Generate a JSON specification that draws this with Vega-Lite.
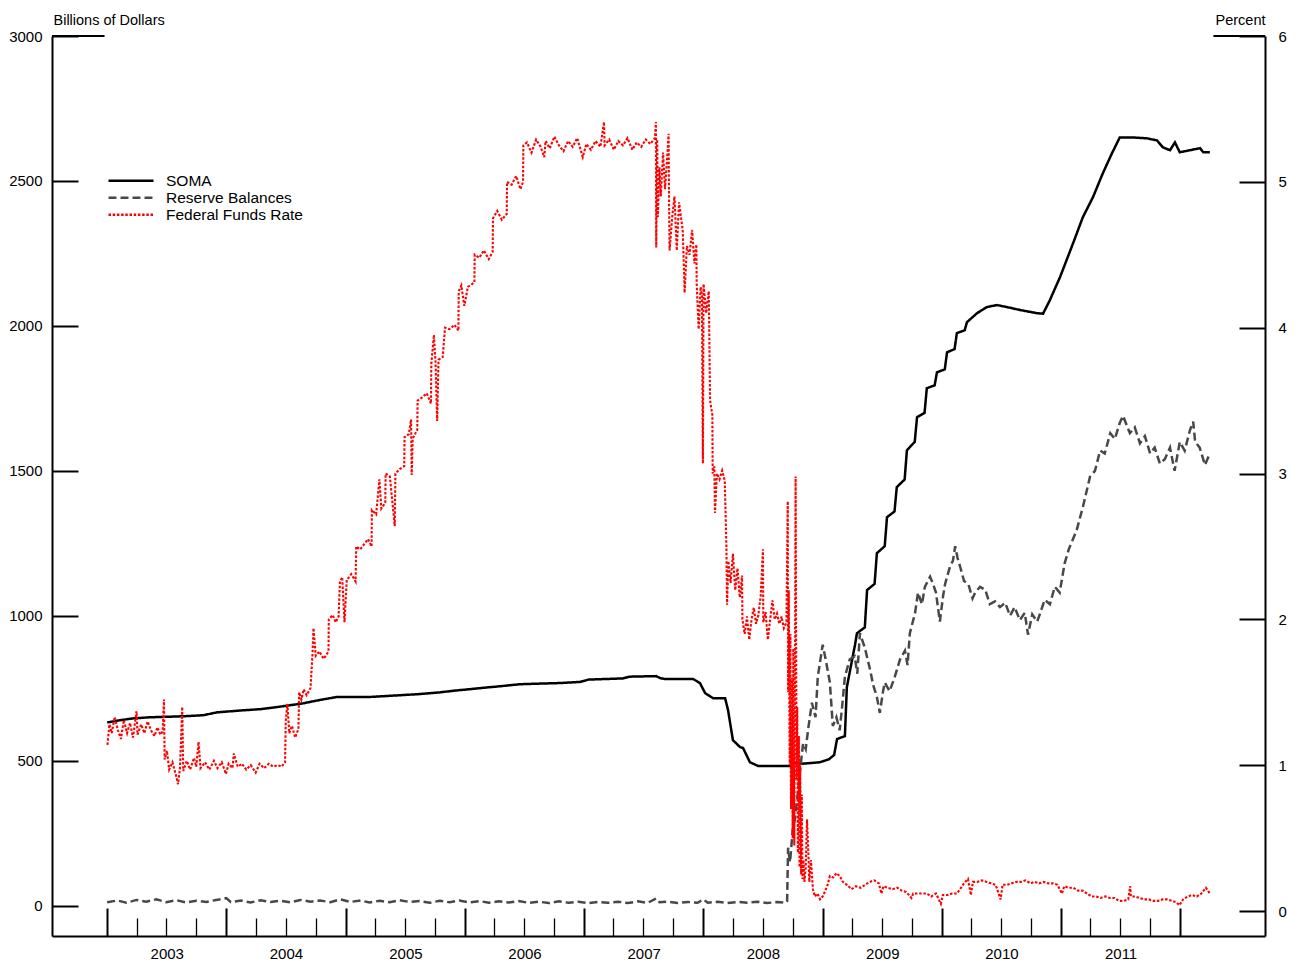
{
"$schema":"https://vega.github.io/schema/vega-lite/v6.json",
"width":1213,"height":900,
"autosize":{"type":"none"},
"padding":{"left":52,"top":36,"right":35,"bottom":28},
"background":"white",
"config":{"view":{"stroke":null},"font":"Liberation Sans",
 "axis":{"domainColor":"black","domainWidth":2,"tickColor":"black","grid":false,"labelFont":"Liberation Sans","labelFontSize":15,"labelColor":"black","titleFont":"Liberation Sans","titleFontSize":14.5,"titleFontWeight":"normal","titleColor":"black"}},
"datasets":{
"soma":[
{"d":"2003-01-01","v":632},{"d":"2003-02-10","v":640},{"d":"2003-03-20","v":646},{"d":"2003-05-13","v":650},{"d":"2003-07-15","v":652},{"d":"2003-09-01","v":654},{"d":"2003-10-22","v":657},{"d":"2003-12-04","v":667},{"d":"2004-02-21","v":674},{"d":"2004-04-15","v":678},{"d":"2004-06-23","v":688},{"d":"2004-08-23","v":698},{"d":"2004-10-15","v":710},{"d":"2004-12-05","v":720},{"d":"2005-01-14","v":720},{"d":"2005-03-15","v":720},{"d":"2005-04-15","v":722},{"d":"2005-06-16","v":726},{"d":"2005-08-15","v":730},{"d":"2005-10-17","v":736},{"d":"2005-12-01","v":742},{"d":"2006-01-17","v":747},{"d":"2006-03-01","v":752},{"d":"2006-04-19","v":757},{"d":"2006-06-19","v":764},{"d":"2006-08-15","v":766},{"d":"2006-10-19","v":768},{"d":"2006-12-20","v":772},{"d":"2007-01-15","v":780},{"d":"2007-04-30","v":784},{"d":"2007-05-20","v":790},{"d":"2007-08-10","v":792},{"d":"2007-08-22","v":785},{"d":"2007-09-06","v":782},{"d":"2007-12-01","v":782},{"d":"2007-12-22","v":768},{"d":"2008-01-07","v":733},{"d":"2008-01-31","v":716},{"d":"2008-03-08","v":716},{"d":"2008-03-17","v":675},{"d":"2008-04-01","v":571},{"d":"2008-04-23","v":547},{"d":"2008-05-02","v":544},{"d":"2008-05-23","v":495},{"d":"2008-06-17","v":482},{"d":"2008-09-23","v":482},{"d":"2008-10-02","v":492},{"d":"2008-11-01","v":490},{"d":"2008-12-24","v":495},{"d":"2009-01-20","v":505},{"d":"2009-02-05","v":520},{"d":"2009-02-14","v":575},{"d":"2009-03-10","v":585},{"d":"2009-03-16","v":754},{"d":"2009-04-10","v":900},{"d":"2009-04-16","v":940},{"d":"2009-05-10","v":960},{"d":"2009-05-17","v":1089},{"d":"2009-06-09","v":1110},{"d":"2009-06-16","v":1216},{"d":"2009-07-10","v":1240},{"d":"2009-07-17","v":1340},{"d":"2009-08-09","v":1360},{"d":"2009-08-16","v":1444},{"d":"2009-09-09","v":1470},{"d":"2009-09-16","v":1571},{"d":"2009-10-10","v":1600},{"d":"2009-10-17","v":1685},{"d":"2009-11-09","v":1700},{"d":"2009-11-16","v":1785},{"d":"2009-12-10","v":1795},{"d":"2009-12-17","v":1840},{"d":"2010-01-10","v":1850},{"d":"2010-01-17","v":1909},{"d":"2010-02-09","v":1920},{"d":"2010-02-16","v":1975},{"d":"2010-03-12","v":1985},{"d":"2010-03-19","v":2013},{"d":"2010-04-19","v":2044},{"d":"2010-05-19","v":2065},{"d":"2010-06-19","v":2072},{"d":"2010-07-19","v":2065},{"d":"2010-08-28","v":2055},{"d":"2010-10-19","v":2044},{"d":"2010-11-07","v":2042},{"d":"2010-11-28","v":2089},{"d":"2010-12-29","v":2168},{"d":"2011-02-07","v":2285},{"d":"2011-03-09","v":2375},{"d":"2011-04-09","v":2444},{"d":"2011-05-09","v":2526},{"d":"2011-06-06","v":2595},{"d":"2011-06-30","v":2650},{"d":"2011-08-09","v":2650},{"d":"2011-09-21","v":2647},{"d":"2011-10-22","v":2640},{"d":"2011-11-09","v":2616},{"d":"2011-12-01","v":2606},{"d":"2011-12-16","v":2633},{"d":"2011-12-31","v":2599},{"d":"2012-01-31","v":2606},{"d":"2012-03-02","v":2613},{"d":"2012-03-12","v":2599},{"d":"2012-04-01","v":2599}],
"res":[
{"d":"2003-01-01","v":12},{"d":"2003-02-01","v":18},{"d":"2003-03-01","v":10},{"d":"2003-04-01","v":20},{"d":"2003-05-01","v":14},{"d":"2003-06-01","v":22},{"d":"2003-07-01","v":12},{"d":"2003-08-01","v":19},{"d":"2003-09-01","v":11},{"d":"2003-10-01","v":17},{"d":"2003-11-01","v":13},{"d":"2003-12-01","v":20},{"d":"2004-01-01","v":26},{"d":"2004-01-15","v":12},{"d":"2004-02-15","v":18},{"d":"2004-03-15","v":11},{"d":"2004-04-15","v":19},{"d":"2004-05-15","v":13},{"d":"2004-06-15","v":17},{"d":"2004-07-15","v":12},{"d":"2004-08-15","v":20},{"d":"2004-09-15","v":14},{"d":"2004-10-15","v":18},{"d":"2004-11-15","v":12},{"d":"2004-12-15","v":22},{"d":"2005-01-15","v":13},{"d":"2005-02-15","v":18},{"d":"2005-03-15","v":11},{"d":"2005-04-15","v":17},{"d":"2005-05-15","v":12},{"d":"2005-06-15","v":19},{"d":"2005-07-15","v":13},{"d":"2005-08-15","v":16},{"d":"2005-09-15","v":10},{"d":"2005-10-15","v":17},{"d":"2005-11-15","v":12},{"d":"2005-12-15","v":18},{"d":"2006-01-15","v":11},{"d":"2006-02-15","v":16},{"d":"2006-03-15","v":10},{"d":"2006-04-15","v":15},{"d":"2006-05-15","v":11},{"d":"2006-06-15","v":16},{"d":"2006-07-15","v":10},{"d":"2006-08-15","v":14},{"d":"2006-09-15","v":9},{"d":"2006-10-15","v":15},{"d":"2006-11-15","v":10},{"d":"2006-12-15","v":14},{"d":"2007-01-15","v":9},{"d":"2007-02-15","v":13},{"d":"2007-03-15","v":10},{"d":"2007-04-15","v":14},{"d":"2007-05-15","v":9},{"d":"2007-06-15","v":15},{"d":"2007-07-15","v":10},{"d":"2007-08-10","v":25},{"d":"2007-08-20","v":12},{"d":"2007-09-15","v":14},{"d":"2007-10-15","v":9},{"d":"2007-11-15","v":13},{"d":"2007-12-15","v":10},{"d":"2008-01-01","v":22},{"d":"2008-01-15","v":10},{"d":"2008-02-15","v":14},{"d":"2008-03-15","v":9},{"d":"2008-04-15","v":13},{"d":"2008-05-15","v":10},{"d":"2008-06-15","v":14},{"d":"2008-07-15","v":9},{"d":"2008-08-15","v":13},{"d":"2008-09-10","v":10},{"d":"2008-09-14","v":15},{"d":"2008-09-17","v":200},{"d":"2008-09-23","v":150},{"d":"2008-10-01","v":260},{"d":"2008-10-08","v":300},{"d":"2008-10-16","v":380},{"d":"2008-10-24","v":470},{"d":"2008-11-02","v":560},{"d":"2008-11-10","v":540},{"d":"2008-11-17","v":605},{"d":"2008-11-29","v":700},{"d":"2008-12-10","v":650},{"d":"2008-12-17","v":790},{"d":"2009-01-01","v":900},{"d":"2009-01-10","v":850},{"d":"2009-01-23","v":770},{"d":"2009-02-01","v":620},{"d":"2009-02-12","v":650},{"d":"2009-02-22","v":605},{"d":"2009-03-01","v":680},{"d":"2009-03-10","v":790},{"d":"2009-03-25","v":850},{"d":"2009-04-09","v":860},{"d":"2009-04-17","v":800},{"d":"2009-04-25","v":940},{"d":"2009-05-10","v":890},{"d":"2009-05-25","v":820},{"d":"2009-06-05","v":760},{"d":"2009-06-16","v":720},{"d":"2009-06-25","v":665},{"d":"2009-07-05","v":740},{"d":"2009-07-10","v":770},{"d":"2009-07-25","v":740},{"d":"2009-08-10","v":790},{"d":"2009-08-26","v":850},{"d":"2009-09-10","v":880},{"d":"2009-09-18","v":830},{"d":"2009-09-25","v":940},{"d":"2009-10-11","v":1010},{"d":"2009-10-20","v":1080},{"d":"2009-11-01","v":1040},{"d":"2009-11-10","v":1100},{"d":"2009-11-26","v":1135},{"d":"2009-12-05","v":1110},{"d":"2009-12-14","v":1080},{"d":"2009-12-26","v":980},{"d":"2010-01-05","v":1070},{"d":"2010-01-11","v":1110},{"d":"2010-01-26","v":1170},{"d":"2010-02-04","v":1190},{"d":"2010-02-11","v":1240},{"d":"2010-02-18","v":1200},{"d":"2010-02-26","v":1170},{"d":"2010-03-10","v":1120},{"d":"2010-03-23","v":1110},{"d":"2010-04-05","v":1060},{"d":"2010-04-13","v":1080},{"d":"2010-04-28","v":1100},{"d":"2010-05-14","v":1090},{"d":"2010-05-28","v":1040},{"d":"2010-06-13","v":1050},{"d":"2010-06-28","v":1030},{"d":"2010-07-14","v":1045},{"d":"2010-07-29","v":1000},{"d":"2010-08-12","v":1030},{"d":"2010-08-28","v":985},{"d":"2010-09-12","v":1010},{"d":"2010-09-22","v":935},{"d":"2010-10-05","v":1005},{"d":"2010-10-20","v":980},{"d":"2010-10-28","v":1005},{"d":"2010-11-12","v":1055},{"d":"2010-11-28","v":1040},{"d":"2010-12-13","v":1100},{"d":"2010-12-28","v":1080},{"d":"2011-01-12","v":1180},{"d":"2011-01-25","v":1230},{"d":"2011-02-18","v":1295},{"d":"2011-03-09","v":1375},{"d":"2011-03-31","v":1480},{"d":"2011-04-15","v":1500},{"d":"2011-05-01","v":1570},{"d":"2011-05-15","v":1560},{"d":"2011-06-01","v":1630},{"d":"2011-06-15","v":1610},{"d":"2011-06-30","v":1665},{"d":"2011-07-10","v":1690},{"d":"2011-07-31","v":1630},{"d":"2011-08-15","v":1650},{"d":"2011-08-31","v":1595},{"d":"2011-09-15","v":1620},{"d":"2011-10-01","v":1560},{"d":"2011-10-15","v":1580},{"d":"2011-10-31","v":1525},{"d":"2011-11-15","v":1540},{"d":"2011-12-01","v":1580},{"d":"2011-12-15","v":1500},{"d":"2011-12-31","v":1600},{"d":"2012-01-15","v":1570},{"d":"2012-01-31","v":1640},{"d":"2012-02-10","v":1670},{"d":"2012-02-16","v":1600},{"d":"2012-03-01","v":1580},{"d":"2012-03-17","v":1520},{"d":"2012-04-01","v":1560}],
"ff":[
{"d":"2003-01-02","v":1.14},{"d":"2003-01-08","v":1.28},{"d":"2003-01-15","v":1.22},{"d":"2003-01-24","v":1.33},{"d":"2003-02-03","v":1.24},{"d":"2003-02-12","v":1.18},{"d":"2003-02-21","v":1.31},{"d":"2003-03-03","v":1.22},{"d":"2003-03-12","v":1.29},{"d":"2003-03-21","v":1.19},{"d":"2003-04-01","v":1.37},{"d":"2003-04-04","v":1.21},{"d":"2003-04-15","v":1.28},{"d":"2003-04-25","v":1.22},{"d":"2003-05-05","v":1.30},{"d":"2003-05-15","v":1.24},{"d":"2003-05-26","v":1.20},{"d":"2003-06-04","v":1.26},{"d":"2003-06-13","v":1.21},{"d":"2003-06-20","v":1.23},{"d":"2003-06-24","v":1.45},{"d":"2003-06-26","v":1.04},{"d":"2003-07-03","v":1.10},{"d":"2003-07-10","v":0.97},{"d":"2003-07-20","v":1.02},{"d":"2003-07-31","v":0.93},{"d":"2003-08-06","v":0.87},{"d":"2003-08-12","v":0.98},{"d":"2003-08-19","v":1.40},{"d":"2003-08-22","v":0.96},{"d":"2003-09-02","v":1.03},{"d":"2003-09-12","v":0.97},{"d":"2003-09-24","v":1.05},{"d":"2003-10-01","v":0.99},{"d":"2003-10-08","v":1.16},{"d":"2003-10-14","v":0.98},{"d":"2003-10-28","v":1.02},{"d":"2003-11-10","v":0.97},{"d":"2003-11-24","v":1.03},{"d":"2003-12-05","v":0.98},{"d":"2003-12-18","v":1.02},{"d":"2003-12-31","v":0.94},{"d":"2004-01-08","v":1.01},{"d":"2004-01-20","v":0.98},{"d":"2004-01-24","v":1.08},{"d":"2004-02-05","v":0.99},{"d":"2004-02-18","v":1.01},{"d":"2004-03-02","v":0.97},{"d":"2004-03-16","v":1.00},{"d":"2004-03-31","v":0.95},{"d":"2004-04-12","v":1.01},{"d":"2004-04-26","v":0.98},{"d":"2004-05-10","v":1.01},{"d":"2004-05-24","v":0.99},{"d":"2004-06-07","v":1.00},{"d":"2004-06-18","v":0.99},{"d":"2004-06-29","v":1.02},{"d":"2004-07-01","v":1.30},{"d":"2004-07-06","v":1.42},{"d":"2004-07-12","v":1.22},{"d":"2004-07-20","v":1.27},{"d":"2004-07-30","v":1.19},{"d":"2004-08-09","v":1.25},{"d":"2004-08-11","v":1.50},{"d":"2004-08-18","v":1.45},{"d":"2004-08-25","v":1.52},{"d":"2004-09-03","v":1.48},{"d":"2004-09-15","v":1.53},{"d":"2004-09-21","v":1.76},{"d":"2004-09-24","v":1.94},{"d":"2004-10-01","v":1.75},{"d":"2004-10-12","v":1.78},{"d":"2004-10-25","v":1.73},{"d":"2004-11-09","v":1.78},{"d":"2004-11-10","v":2.00},{"d":"2004-11-22","v":2.03},{"d":"2004-12-01","v":1.98},{"d":"2004-12-10","v":2.02},{"d":"2004-12-14","v":2.25},{"d":"2004-12-21","v":2.29},{"d":"2004-12-28","v":1.98},{"d":"2005-01-04","v":2.27},{"d":"2005-01-18","v":2.31},{"d":"2005-01-31","v":2.26},{"d":"2005-02-02","v":2.50},{"d":"2005-02-14","v":2.48},{"d":"2005-02-28","v":2.52},{"d":"2005-03-10","v":2.55},{"d":"2005-03-21","v":2.50},{"d":"2005-03-22","v":2.75},{"d":"2005-04-04","v":2.72},{"d":"2005-04-14","v":2.96},{"d":"2005-04-20","v":2.76},{"d":"2005-05-02","v":2.80},{"d":"2005-05-03","v":3.00},{"d":"2005-05-16","v":2.98},{"d":"2005-05-31","v":2.64},{"d":"2005-06-02","v":3.00},{"d":"2005-06-15","v":3.03},{"d":"2005-06-29","v":3.05},{"d":"2005-06-30","v":3.25},{"d":"2005-07-13","v":3.27},{"d":"2005-07-20","v":3.37},{"d":"2005-07-22","v":2.99},{"d":"2005-07-25","v":3.24},{"d":"2005-08-08","v":3.30},{"d":"2005-08-09","v":3.50},{"d":"2005-08-22","v":3.52},{"d":"2005-09-06","v":3.55},{"d":"2005-09-19","v":3.48},{"d":"2005-09-20","v":3.75},{"d":"2005-09-28","v":3.95},{"d":"2005-10-03","v":3.76},{"d":"2005-10-08","v":3.36},{"d":"2005-10-12","v":3.78},{"d":"2005-10-25","v":3.80},{"d":"2005-11-01","v":4.00},{"d":"2005-11-15","v":3.99},{"d":"2005-11-30","v":4.02},{"d":"2005-12-12","v":3.98},{"d":"2005-12-13","v":4.25},{"d":"2005-12-21","v":4.29},{"d":"2005-12-30","v":4.15},{"d":"2006-01-10","v":4.28},{"d":"2006-01-30","v":4.31},{"d":"2006-01-31","v":4.50},{"d":"2006-02-14","v":4.48},{"d":"2006-02-28","v":4.53},{"d":"2006-03-15","v":4.47},{"d":"2006-03-27","v":4.52},{"d":"2006-03-28","v":4.75},{"d":"2006-04-10","v":4.80},{"d":"2006-04-24","v":4.74},{"d":"2006-05-09","v":4.78},{"d":"2006-05-10","v":5.00},{"d":"2006-05-24","v":4.98},{"d":"2006-06-07","v":5.04},{"d":"2006-06-20","v":4.95},{"d":"2006-06-28","v":5.00},{"d":"2006-06-29","v":5.25},{"d":"2006-07-10","v":5.27},{"d":"2006-07-24","v":5.20},{"d":"2006-08-07","v":5.29},{"d":"2006-08-21","v":5.24},{"d":"2006-09-01","v":5.17},{"d":"2006-09-05","v":5.28},{"d":"2006-09-18","v":5.23},{"d":"2006-10-02","v":5.31},{"d":"2006-10-16","v":5.25},{"d":"2006-10-30","v":5.21},{"d":"2006-11-13","v":5.28},{"d":"2006-11-27","v":5.24},{"d":"2006-12-11","v":5.30},{"d":"2006-12-28","v":5.17},{"d":"2007-01-08","v":5.26},{"d":"2007-01-22","v":5.22},{"d":"2007-02-05","v":5.28},{"d":"2007-02-20","v":5.24},{"d":"2007-03-03","v":5.41},{"d":"2007-03-05","v":5.25},{"d":"2007-03-19","v":5.29},{"d":"2007-04-02","v":5.22},{"d":"2007-04-16","v":5.28},{"d":"2007-04-30","v":5.25},{"d":"2007-05-14","v":5.30},{"d":"2007-05-29","v":5.22},{"d":"2007-06-11","v":5.27},{"d":"2007-06-25","v":5.24},{"d":"2007-07-09","v":5.29},{"d":"2007-07-23","v":5.26},{"d":"2007-08-06","v":5.30},{"d":"2007-08-09","v":5.41},{"d":"2007-08-10","v":4.55},{"d":"2007-08-13","v":5.29},{"d":"2007-08-15","v":4.76},{"d":"2007-08-20","v":5.10},{"d":"2007-08-24","v":4.90},{"d":"2007-08-31","v":5.20},{"d":"2007-09-06","v":4.95},{"d":"2007-09-12","v":5.15},{"d":"2007-09-17","v":5.33},{"d":"2007-09-18","v":4.94},{"d":"2007-09-20","v":4.53},{"d":"2007-09-28","v":4.76},{"d":"2007-10-05","v":4.90},{"d":"2007-10-12","v":4.53},{"d":"2007-10-19","v":4.86},{"d":"2007-10-30","v":4.67},{"d":"2007-10-31","v":4.62},{"d":"2007-11-05","v":4.24},{"d":"2007-11-12","v":4.56},{"d":"2007-11-20","v":4.50},{"d":"2007-11-28","v":4.67},{"d":"2007-12-05","v":4.44},{"d":"2007-12-11","v":4.57},{"d":"2007-12-12","v":4.30},{"d":"2007-12-18","v":3.99},{"d":"2007-12-24","v":4.28},{"d":"2007-12-28","v":4.22},{"d":"2007-12-31","v":3.07},{"d":"2008-01-02","v":4.30},{"d":"2008-01-10","v":4.10},{"d":"2008-01-18","v":4.25},{"d":"2008-01-22","v":3.50},{"d":"2008-01-29","v":3.40},{"d":"2008-01-30","v":3.00},{"d":"2008-02-04","v":3.05},{"d":"2008-02-06","v":2.73},{"d":"2008-02-12","v":3.00},{"d":"2008-02-20","v":2.96},{"d":"2008-02-28","v":3.02},{"d":"2008-03-07","v":2.95},{"d":"2008-03-12","v":2.50},{"d":"2008-03-14","v":2.10},{"d":"2008-03-18","v":2.40},{"d":"2008-03-25","v":2.25},{"d":"2008-04-01","v":2.45},{"d":"2008-04-08","v":2.20},{"d":"2008-04-15","v":2.35},{"d":"2008-04-22","v":2.15},{"d":"2008-04-29","v":2.30},{"d":"2008-04-30","v":2.00},{"d":"2008-05-07","v":1.90},{"d":"2008-05-14","v":2.02},{"d":"2008-05-21","v":1.86},{"d":"2008-05-28","v":2.00},{"d":"2008-06-04","v":2.08},{"d":"2008-06-11","v":1.97},{"d":"2008-06-18","v":2.03},{"d":"2008-06-25","v":2.16},{"d":"2008-07-02","v":2.48},{"d":"2008-07-03","v":1.98},{"d":"2008-07-10","v":2.05},{"d":"2008-07-17","v":1.86},{"d":"2008-07-24","v":2.00},{"d":"2008-07-31","v":2.13},{"d":"2008-08-07","v":2.00},{"d":"2008-08-14","v":2.04},{"d":"2008-08-21","v":1.97},{"d":"2008-08-28","v":2.02},{"d":"2008-09-04","v":1.94},{"d":"2008-09-12","v":1.98},{"d":"2008-09-16","v":2.81},{"d":"2008-09-17","v":1.50},{"d":"2008-09-19","v":2.20},{"d":"2008-09-22","v":1.00},{"d":"2008-09-24","v":1.90},{"d":"2008-09-26","v":0.70},{"d":"2008-09-29","v":1.60},{"d":"2008-10-01","v":0.50},{"d":"2008-10-03","v":1.80},{"d":"2008-10-06","v":0.45},{"d":"2008-10-08","v":1.50},{"d":"2008-10-10","v":2.98},{"d":"2008-10-13","v":0.90},{"d":"2008-10-15","v":1.40},{"d":"2008-10-17","v":0.40},{"d":"2008-10-20","v":1.20},{"d":"2008-10-22","v":0.30},{"d":"2008-10-24","v":1.00},{"d":"2008-10-27","v":0.25},{"d":"2008-10-29","v":0.80},{"d":"2008-10-31","v":0.22},{"d":"2008-11-03","v":0.35},{"d":"2008-11-06","v":0.20},{"d":"2008-11-10","v":0.30},{"d":"2008-11-14","v":0.63},{"d":"2008-11-18","v":0.40},{"d":"2008-11-21","v":0.20},{"d":"2008-11-26","v":0.35},{"d":"2008-12-02","v":0.15},{"d":"2008-12-08","v":0.10},{"d":"2008-12-16","v":0.12},{"d":"2008-12-24","v":0.08},{"d":"2009-01-01","v":0.10},{"d":"2009-01-09","v":0.14},{"d":"2009-01-16","v":0.18},{"d":"2009-01-23","v":0.24},{"d":"2009-02-02","v":0.23},{"d":"2009-02-12","v":0.26},{"d":"2009-02-22","v":0.24},{"d":"2009-03-04","v":0.20},{"d":"2009-03-16","v":0.18},{"d":"2009-03-30","v":0.15},{"d":"2009-04-13","v":0.17},{"d":"2009-04-27","v":0.16},{"d":"2009-05-11","v":0.18},{"d":"2009-05-25","v":0.20},{"d":"2009-06-08","v":0.21},{"d":"2009-06-22","v":0.19},{"d":"2009-06-30","v":0.12},{"d":"2009-07-06","v":0.17},{"d":"2009-07-20","v":0.16},{"d":"2009-08-03","v":0.15},{"d":"2009-08-17","v":0.16},{"d":"2009-08-31","v":0.14},{"d":"2009-09-14","v":0.13},{"d":"2009-09-30","v":0.09},{"d":"2009-10-05","v":0.12},{"d":"2009-10-19","v":0.12},{"d":"2009-11-02","v":0.12},{"d":"2009-11-16","v":0.12},{"d":"2009-11-30","v":0.10},{"d":"2009-12-14","v":0.12},{"d":"2009-12-29","v":0.05},{"d":"2010-01-04","v":0.11},{"d":"2010-01-19","v":0.11},{"d":"2010-02-01","v":0.12},{"d":"2010-02-16","v":0.12},{"d":"2010-03-01","v":0.16},{"d":"2010-03-10","v":0.19},{"d":"2010-03-22","v":0.22},{"d":"2010-03-31","v":0.11},{"d":"2010-04-06","v":0.20},{"d":"2010-04-20","v":0.20},{"d":"2010-05-04","v":0.21},{"d":"2010-05-18","v":0.20},{"d":"2010-06-01","v":0.19},{"d":"2010-06-15","v":0.18},{"d":"2010-06-30","v":0.08},{"d":"2010-07-06","v":0.18},{"d":"2010-07-20","v":0.18},{"d":"2010-08-03","v":0.19},{"d":"2010-08-17","v":0.20},{"d":"2010-08-31","v":0.20},{"d":"2010-09-14","v":0.21},{"d":"2010-09-30","v":0.19},{"d":"2010-10-12","v":0.20},{"d":"2010-10-26","v":0.19},{"d":"2010-11-09","v":0.20},{"d":"2010-11-23","v":0.19},{"d":"2010-12-07","v":0.19},{"d":"2010-12-21","v":0.18},{"d":"2011-01-04","v":0.12},{"d":"2011-01-11","v":0.17},{"d":"2011-01-25","v":0.16},{"d":"2011-02-08","v":0.16},{"d":"2011-02-22","v":0.14},{"d":"2011-03-08","v":0.14},{"d":"2011-03-22","v":0.12},{"d":"2011-04-05","v":0.10},{"d":"2011-04-19","v":0.10},{"d":"2011-05-03","v":0.09},{"d":"2011-05-17","v":0.10},{"d":"2011-05-31","v":0.09},{"d":"2011-06-14","v":0.09},{"d":"2011-06-28","v":0.07},{"d":"2011-07-12","v":0.07},{"d":"2011-07-26","v":0.08},{"d":"2011-08-01","v":0.17},{"d":"2011-08-03","v":0.10},{"d":"2011-08-16","v":0.10},{"d":"2011-08-30","v":0.09},{"d":"2011-09-13","v":0.08},{"d":"2011-09-27","v":0.08},{"d":"2011-10-11","v":0.07},{"d":"2011-10-25","v":0.07},{"d":"2011-11-08","v":0.08},{"d":"2011-11-22","v":0.08},{"d":"2011-12-06","v":0.07},{"d":"2011-12-20","v":0.06},{"d":"2011-12-30","v":0.04},{"d":"2012-01-10","v":0.08},{"d":"2012-01-24","v":0.10},{"d":"2012-02-07","v":0.11},{"d":"2012-02-21","v":0.10},{"d":"2012-03-06","v":0.12},{"d":"2012-03-20","v":0.16},{"d":"2012-03-26","v":0.14},{"d":"2012-04-01","v":0.12}]
},
"layer":[
  {"data":{"name":"soma"},"mark":{"type":"line","strokeWidth":2.5},
   "encoding":{
    "x":{"field":"d","type":"temporal","scale":{"domain":[{"year":2002,"month":7,"date":16},{"year":2012,"month":9,"date":17}],"nice":false},
     "axis":{"orient":"bottom","title":null,"values":[{"year":2003,"month":1,"date":1},{"year":2004,"month":1,"date":1},{"year":2005,"month":1,"date":1},{"year":2006,"month":1,"date":1},{"year":2007,"month":1,"date":1},{"year":2008,"month":1,"date":1},{"year":2009,"month":1,"date":1},{"year":2010,"month":1,"date":1},{"year":2011,"month":1,"date":1},{"year":2012,"month":1,"date":1}],
      "tickSize":-28,"tickWidth":2,
      "labelExpr":"year(datum.value)<2012 ? ''+year(datum.value) : ''",
      "labelOffset":59.6,"labelPadding":38,"labelFlush":false,"labelOverlap":false,"labelBaseline":"top"}},
    "y":{"field":"v","type":"quantitative","scale":{"domain":[-104.5,3000],"nice":false,"zero":false},
     "axis":{"values":[0,500,1000,1500,2000,2500,3000],"format":"d","tickSize":-26,"tickWidth":2,"labelPadding":36,"labelOverlap":false,
      "title":"Billions of Dollars","titleAngle":0,"titleX":1,"titleY":-12,"titleAlign":"left","titleBaseline":"alphabetic"}},
    "color":{"datum":"SOMA","type":"nominal","scale":{"domain":["SOMA","Reserve Balances","Federal Funds Rate"],"range":["#000000","#484848","#ff0000"]},
     "legend":{"title":null,"orient":"none","legendX":55,"legendY":137,"symbolType":"stroke","symbolSize":2025,"symbolStrokeWidth":2.5,"labelFontSize":15.5,"labelFont":"Liberation Sans","labelColor":"black","clipHeight":15.5,"rowPadding":0,"padding":0,"labelOffset":11}},
    "strokeDash":{"datum":"SOMA","type":"nominal","scale":{"domain":["SOMA","Reserve Balances","Federal Funds Rate"],"range":[[1,0],[8,4],[2.5,1.7]]},
     "legend":{"title":null,"orient":"none","legendX":55,"legendY":137,"symbolType":"stroke","symbolSize":2025,"symbolStrokeWidth":2.5,"labelFontSize":15.5,"labelFont":"Liberation Sans","labelColor":"black","clipHeight":15.5,"rowPadding":0,"padding":0,"labelOffset":11}}}},
  {"data":{"name":"res"},"mark":{"type":"line","strokeWidth":2.5},
   "encoding":{
    "x":{"field":"d","type":"temporal","scale":{"domain":[{"year":2002,"month":7,"date":16},{"year":2012,"month":9,"date":17}],"nice":false},"axis":null},
    "y":{"field":"v","type":"quantitative","scale":{"domain":[-104.5,3000],"nice":false,"zero":false},"axis":null},
    "color":{"datum":"Reserve Balances","type":"nominal"},
    "strokeDash":{"datum":"Reserve Balances","type":"nominal"}}},
  {"data":{"values":[{}]},"mark":{"type":"rule","color":"black","strokeWidth":2},
   "encoding":{
    "x":{"datum":{"year":2002,"month":7,"date":16},"type":"temporal","axis":null},
    "x2":{"datum":{"year":2002,"month":12,"date":24}},
    "y":{"datum":3000,"type":"quantitative","scale":{"domain":[-104.5,3000],"nice":false,"zero":false},"axis":null}}},
  {"data":{"values":[{}]},"mark":{"type":"rule","color":"black","strokeWidth":2},
   "encoding":{
    "x":{"datum":{"year":2012,"month":4,"date":12},"type":"temporal","axis":null},
    "x2":{"datum":{"year":2012,"month":9,"date":17}},
    "y":{"datum":3000,"type":"quantitative","scale":{"domain":[-104.5,3000],"nice":false,"zero":false},"axis":null}}},
 {"data":{"name":"ff"},"mark":{"type":"line","strokeWidth":2.1},
  "encoding":{
   "x":{"field":"d","type":"temporal","scale":{"domain":[{"year":2002,"month":7,"date":16},{"year":2012,"month":9,"date":17}],"nice":false},
    "axis":{"orient":"bottom","title":null,"labels":false,"domain":false,"tickSize":-18,"tickWidth":1.3,
     "values":[{"year":2003,"month":4,"date":1},{"year":2003,"month":7,"date":1},{"year":2003,"month":10,"date":1},{"year":2004,"month":4,"date":1},{"year":2004,"month":7,"date":1},{"year":2004,"month":10,"date":1},{"year":2005,"month":4,"date":1},{"year":2005,"month":7,"date":1},{"year":2005,"month":10,"date":1},{"year":2006,"month":4,"date":1},{"year":2006,"month":7,"date":1},{"year":2006,"month":10,"date":1},{"year":2007,"month":4,"date":1},{"year":2007,"month":7,"date":1},{"year":2007,"month":10,"date":1},{"year":2008,"month":4,"date":1},{"year":2008,"month":7,"date":1},{"year":2008,"month":10,"date":1},{"year":2009,"month":4,"date":1},{"year":2009,"month":7,"date":1},{"year":2009,"month":10,"date":1},{"year":2010,"month":4,"date":1},{"year":2010,"month":7,"date":1},{"year":2010,"month":10,"date":1},{"year":2011,"month":4,"date":1},{"year":2011,"month":7,"date":1},{"year":2011,"month":10,"date":1}]}},
   "y":{"field":"v","type":"quantitative","scale":{"domain":[-0.171,6],"nice":false,"zero":false},
    "axis":{"orient":"right","values":[0,1,2,3,4,5,6],"tickSize":-26,"tickWidth":2,"labelPadding":39,"labelOverlap":false,
     "title":"Percent","titleAngle":0,"titleX":0,"titleY":-12,"titleAlign":"right","titleBaseline":"alphabetic"}},
   "color":{"datum":"Federal Funds Rate","type":"nominal"},
   "strokeDash":{"datum":"Federal Funds Rate","type":"nominal"}}}
],
"resolve":{"scale":{"y":"independent"},"axis":{"x":"independent"}}
}
